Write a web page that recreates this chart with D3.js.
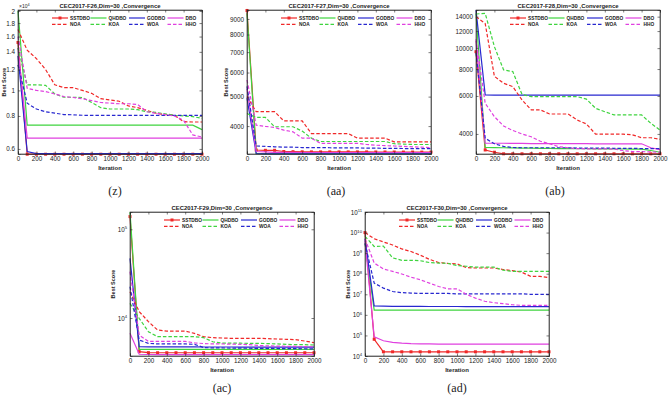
<!DOCTYPE html>
<html><head><meta charset="utf-8">
<script src="https://cdn.jsdelivr.net/npm/d3@7"></script>
<style>body{margin:0;background:#fff} svg{display:block}</style>
</head><body><svg id="c" width="669" height="399"></svg>
<script>
const iterations = d3.range(0, 2001, 100);
const seriesNames = ['SSTDBO','QHDBO','GODBO','DBO','NOA','KOA','WOA','HHO'];
const seriesColors = ['#f02828','#3fd43f','#2828d0','#e040e0','#f02828','#3fd43f','#2828d0','#e040e0'];
const seriesDashed = [false,false,false,false,true,true,true,true];

// F26 (values)
const F26_SSTDBO = [15200,5730,5730,5730,5730,5730,5730,5730,5730,5730,5730,5730,5730,5730,5730,5730,5730,5730,5730,5730,5730];
const F26_QHDBO  = [20000,7380,7380,7380,7380,7380,7380,7380,7380,7380,7380,7380,7380,7380,7380,7380,7380,7380,7380,7380,7100];
const F26_GODBO  = [13500,5860,5760,5760,5760,5760,5760,5760,5760,5760,5760,5760,5760,5760,5760,5760,5760,5760,5760,5760,5760];
const F26_DBO    = [14500,6590,6590,6590,6590,6590,6590,6590,6590,6590,6590,6590,6590,6590,6590,6590,6590,6590,6590,6590,6590];
const F26_NOA    = [17000,14200,13200,12000,10500,10240,10240,10000,9750,9300,9200,9100,8730,8600,8400,8200,8100,8050,7610,7590,7590];
const F26_KOA    = [14500,10490,10500,10450,9700,9420,9420,9400,9000,8600,8500,8500,8500,8450,8300,8250,8150,8050,8000,7950,7840];
const F26_WOA    = [12500,8940,8500,8300,8200,8100,8080,8050,8040,8040,8040,8040,8040,8040,8040,8040,8040,8040,8040,8040,8040];
const F26_HHO    = [16000,10190,10000,9900,9700,9470,9400,9300,9150,9000,8950,8900,8900,8850,8300,8200,8100,8000,7700,6780,6660];

// F27
const F27_SSTDBO = [9600,3337,3330,3330,3300,3295,3292,3290,3290,3290,3290,3290,3290,3290,3288,3288,3288,3286,3286,3285,3285];
const F27_QHDBO  = [9400,3245,3245,3245,3245,3245,3245,3245,3245,3245,3245,3245,3245,3245,3245,3245,3245,3245,3245,3245,3245];
const F27_GODBO  = [4940,3250,3242,3240,3240,3240,3240,3240,3240,3240,3240,3240,3240,3240,3240,3240,3240,3240,3240,3240,3240];
const F27_DBO    = [5300,3300,3290,3280,3278,3276,3275,3275,3275,3275,3275,3275,3275,3275,3275,3275,3275,3275,3275,3275,3275];
const F27_NOA    = [5000,4460,4460,4460,4160,4160,4160,3780,3780,3780,3780,3780,3650,3650,3650,3650,3550,3550,3550,3550,3550];
const F27_KOA    = [4400,4270,4270,3980,3980,3980,3850,3650,3560,3560,3560,3560,3560,3560,3560,3560,3500,3490,3480,3480,3480];
const F27_WOA    = [5400,3440,3430,3420,3410,3410,3400,3400,3400,3395,3390,3390,3390,3385,3385,3380,3380,3375,3375,3370,3370];
const F27_HHO    = [5670,4030,3990,3960,3880,3830,3650,3650,3510,3510,3510,3510,3510,3480,3460,3450,3440,3430,3420,3410,3400];

// F28
const F28_SSTDBO = [9630,3370,3290,3235,3235,3235,3235,3235,3235,3235,3235,3235,3235,3235,3235,3235,3235,3235,3235,3235,3235];
const F28_QHDBO  = [14500,3460,3455,3450,3445,3440,3435,3430,3425,3420,3420,3415,3415,3410,3410,3405,3405,3400,3400,3350,3290];
const F28_GODBO  = [15000,6070,6050,6050,6050,6050,6050,6050,6050,6050,6050,6050,6050,6050,6050,6050,6050,6050,6050,6050,6050];
const F28_DBO    = [10800,3620,3620,3620,3615,3615,3610,3610,3610,3605,3605,3605,3605,3600,3600,3600,3600,3600,3600,3450,3380];
const F28_NOA    = [14000,13000,7400,6870,6630,5750,5170,5170,4950,4950,4950,4640,4450,3990,3990,3990,3990,3960,3840,3840,3780];
const F28_KOA    = [14400,14500,10160,7930,7780,6100,5960,5960,5960,5960,5960,5960,5800,5260,5070,4900,4900,4900,4900,4480,4170];
const F28_WOA    = [9500,3820,3600,3500,3460,3450,3450,3450,3450,3450,3450,3440,3440,3440,3440,3430,3430,3430,3420,3420,3420];
const F28_HHO    = [11000,5550,4810,4350,4150,4000,3880,3700,3600,3490,3450,3420,3410,3410,3410,3400,3350,3310,3310,3300,3290];

// F29
const F29_SSTDBO = [139000,4170,4070,4060,4060,4060,4060,4060,4060,4060,4060,4060,4060,4060,4060,4060,4060,4060,4060,4060,4060];
const F29_QHDBO  = [156000,4440,4440,4440,4440,4440,4440,4440,4440,4440,4440,4440,4440,4440,4440,4440,4440,4440,4440,4440,4440];
const F29_GODBO  = [47000,4740,4730,4730,4720,4720,4720,4720,4710,4710,4710,4710,4700,4700,4700,4700,4700,4700,4700,4700,4700];
const F29_DBO    = [6720,3900,3880,3870,3870,3870,3870,3870,3870,3870,3870,3870,3870,3870,3870,3870,3870,3870,3870,3870,3870];
const F29_NOA    = [19800,11800,9100,7320,7130,7130,7130,6700,6160,6000,5950,5900,5900,5900,5900,5850,5800,5750,5700,5500,5270];
const F29_KOA    = [14600,9920,7010,6160,6160,6160,6160,6160,6000,5400,5200,5200,5200,5180,5180,5150,5100,5050,5000,5000,4960];
const F29_WOA    = [22500,5650,5180,5100,5100,5100,5100,5050,4650,4600,4600,4580,4570,4560,4550,4540,4530,4520,4510,4500,4480];
const F29_HHO    = [33300,6430,5440,5440,5440,5440,5440,5250,5150,5100,5100,5080,5050,5000,4900,4850,4820,4800,4780,4760,4740];

// F30
const F30_SSTDBO = [1e10,6.5e4,1.6e4,1.6e4,1.6e4,1.6e4,1.6e4,1.6e4,1.6e4,1.6e4,1.6e4,1.6e4,1.6e4,1.6e4,1.6e4,1.6e4,1.6e4,1.6e4,1.6e4,1.6e4,1.6e4];
const F30_QHDBO  = [3e9,1.7e6,1.7e6,1.7e6,1.7e6,1.7e6,1.7e6,1.7e6,1.7e6,1.7e6,1.7e6,1.7e6,1.7e6,1.7e6,1.7e6,1.7e6,1.7e6,1.7e6,1.7e6,1.7e6,1.7e6];
const F30_GODBO  = [5e9,2.7e6,2.65e6,2.6e6,2.6e6,2.6e6,2.6e6,2.55e6,2.55e6,2.55e6,2.55e6,2.5e6,2.5e6,2.5e6,2.5e6,2.5e6,2.5e6,2.5e6,2.5e6,2.5e6,2.5e6];
const F30_DBO    = [4e9,8.5e4,5.5e4,4.6e4,4.2e4,4e4,3.9e4,3.85e4,3.8e4,3.8e4,3.8e4,3.8e4,3.8e4,3.8e4,3.8e4,3.8e4,3.8e4,3.8e4,3.8e4,3.8e4,3.8e4];
const F30_NOA    = [1e10,5e9,3.5e9,2.5e9,1.6e9,1.2e9,8e8,5e8,3.5e8,3.2e8,3e8,2e8,1.9e8,1.9e8,1.9e8,1.6e8,1.4e8,1.2e8,7.5e7,7.5e7,6.5e7];
const F30_KOA    = [6.6e9,2.1e9,2.2e9,5.9e8,4.5e8,4.5e8,4.3e8,3.5e8,3.3e8,3.2e8,2.5e8,2.3e8,2.1e8,2.1e8,2.1e8,1.5e8,1.3e8,1.3e8,1.3e8,1.3e8,1.3e8];
const F30_WOA    = [3e9,3.5e7,2e7,1.37e7,1.2e7,1.15e7,1.1e7,1.1e7,1.1e7,1.1e7,1.05e7,1.05e7,1.05e7,1.05e7,1.05e7,1.05e7,1.05e7,1.05e7,1e7,1e7,1e7];
const F30_HHO    = [5e9,3.3e8,1.7e8,1.3e8,9.7e7,6.8e7,5.1e7,3.5e7,2.4e7,1.85e7,1.85e7,1e7,6.5e6,4.6e6,3.9e6,3.5e6,3.1e6,2.9e6,2.9e6,2.9e6,2.9e6];

const xTicks = d3.range(0, 2001, 200);
const yTicksF26 = [6000,8000,10000,12000,14000,16000,18000,20000];
const yTicksF27 = [4000,5000,6000,7000,8000,9000];
const yTicksF28 = [4000,6000,8000,10000,12000,14000];
const yTicksF29 = [1e4,1e5];
const yTicksF30 = [1e4,1e5,1e6,1e7,1e8,1e9,1e10,1e11];
const titles = ['CEC2017-F26,Dim=30 ,Convergence','CEC2017-F27,Dim=30 ,Convergence','CEC2017-F28,Dim=30 ,Convergence','CEC2017-F29,Dim=30 ,Convergence','CEC2017-F30,Dim=30 ,Convergence'];
const captions = ['(z)','(aa)','(ab)','(ac)','(ad)'];

const panels = [
  {series:[F26_SSTDBO,F26_QHDBO,F26_GODBO,F26_DBO,F26_NOA,F26_KOA,F26_WOA,F26_HHO], domain:[5740,20175], ticks:yTicksF26, fmt:'scaled', left:18, top:10, ylab:true, capX:115, capY:195},
  {series:[F27_SSTDBO,F27_QHDBO,F27_GODBO,F27_DBO,F27_NOA,F27_KOA,F27_WOA,F27_HHO], domain:[3238,9633], ticks:yTicksF27, fmt:'plain', left:247, top:10, ylab:true, capX:336, capY:195},
  {series:[F28_SSTDBO,F28_QHDBO,F28_GODBO,F28_DBO,F28_NOA,F28_KOA,F28_WOA,F28_HHO], domain:[3228,15030], ticks:yTicksF28, fmt:'plain', left:476, top:10, ylab:false, capX:555, capY:195},
  {series:[F29_SSTDBO,F29_QHDBO,F29_GODBO,F29_DBO,F29_NOA,F29_KOA,F29_WOA,F29_HHO], domain:[3730,156600], ticks:yTicksF29, fmt:'pow', left:130, top:212, ylab:true, capX:222, capY:392},
  {series:[F30_SSTDBO,F30_QHDBO,F30_GODBO,F30_DBO,F30_NOA,F30_KOA,F30_WOA,F30_HHO], domain:[1e4,1e11], ticks:yTicksF30, fmt:'pow', left:365, top:212, ylab:true, capX:457, capY:392}
];

const W = 184, H = 144;
const svg = d3.select('#c');
const FONT = 'Liberation Sans, Arial, sans-serif';

panels.forEach((p, pi) => {
  const g = svg.append('g').attr('transform', `translate(${p.left},${p.top})`);
  const x = d3.scaleLinear().domain([0, 2000]).range([0, W]);
  const y = d3.scaleLog().domain(p.domain).range([H, 0]);

  const line = d3.line().x((d, i) => x(iterations[i])).y(d => y(d));
  const clipId = 'clip' + pi;
  g.append('clipPath').attr('id', clipId).append('rect').attr('x', -2).attr('y', -2).attr('width', W + 4).attr('height', H + 4);
  const plot = g.append('g').attr('clip-path', `url(#${clipId})`);
  p.series.forEach((s, si) => {
    plot.append('path').datum(s)
      .attr('d', line)
      .attr('fill', 'none')
      .attr('stroke', seriesColors[si])
      .attr('stroke-width', 1.2)
      .attr('stroke-dasharray', seriesDashed[si] ? '3.5,2' : null);
    if (si === 0) {
      plot.selectAll('.mk').data(s).enter().append('path')
        .attr('transform', (d, i) => `translate(${x(iterations[i])},${y(d)})`)
        .attr('d', d3.symbol().type(d3.symbolSquare).size(9))
        .attr('fill', seriesColors[0]);
    }
  });

  const xAxis = g.append('g').attr('transform', `translate(0,${H})`)
    .call(d3.axisBottom(x).tickValues(xTicks).tickSize(-2.5).tickPadding(3).tickFormat(d3.format('d')));
  g.append('g').call(d3.axisTop(x).tickValues(xTicks).tickSize(-2.5).tickFormat(''));
  const yAxis = g.append('g')
    .call(d3.axisLeft(y).tickValues(p.ticks).tickSize(-2.5).tickPadding(3)
      .tickFormat(d => p.fmt === 'scaled' ? d3.format('~g')(d / 1e4) : (p.fmt === 'plain' ? d3.format('d')(d) : '')));
  g.append('g').attr('transform', `translate(${W},0)`)
    .call(d3.axisRight(y).tickValues(p.ticks).tickSize(-2.5).tickFormat(''));
  [xAxis, yAxis].forEach(a => a.selectAll('text').attr('font-family', FONT).attr('font-size', 6.3).attr('fill', '#1a1a1a'));
  g.selectAll('.domain').attr('stroke', '#262626').attr('stroke-width', 0.6);
  g.selectAll('.tick line').attr('stroke', '#262626').attr('stroke-width', 0.6);
  if (p.fmt === 'pow') {
    yAxis.selectAll('.tick text').each(function(d) {
      const t = d3.select(this);
      t.text('10');
      t.append('tspan').attr('dy', -2.5).attr('font-size', 4.2).text(Math.round(Math.log10(d)));
    });
  }
  if (p.fmt === 'scaled') {
    const ex = g.append('text').attr('x', 1).attr('y', -2).attr('font-family', FONT).attr('font-size', 5).attr('fill', '#262626').text('\u00d710');
    ex.append('tspan').attr('dy', -2).attr('font-size', 3.8).text('4');
  }
  g.append('rect').attr('width', W).attr('height', H).attr('fill', 'none').attr('stroke', '#262626').attr('stroke-width', 0.6);

  g.append('text').attr('x', W / 2).attr('y', -2.5).attr('text-anchor', 'middle')
    .attr('font-family', FONT).attr('font-size', 5.9).attr('font-weight', 'bold').attr('fill', '#1a1a1a').text(titles[pi]);
  g.append('text').attr('x', W / 2).attr('y', H + 15.5).attr('text-anchor', 'middle')
    .attr('font-family', FONT).attr('font-size', 6).attr('font-weight', 'bold').attr('fill', '#262626').text('Iteration');
  if (p.ylab) {
    const yl = p.fmt === 'plain' ? -19 : (p.fmt === 'pow' ? -15 : -12);
    g.append('text').attr('transform', `translate(${yl},${H / 2}) rotate(-90)`).attr('text-anchor', 'middle')
      .attr('font-family', FONT).attr('font-size', 5.5).attr('font-weight', 'bold').attr('fill', '#262626').text('Best Score');
  }

  const lg = g.append('g');
  seriesNames.forEach((n, si) => {
    const col = si % 4, row = Math.floor(si / 4);
    const lx = 34 + col * 38.5, ly = 8 + row * 6.3;
    lg.append('line').attr('x1', lx).attr('x2', lx + 16).attr('y1', ly).attr('y2', ly)
      .attr('stroke', seriesColors[si]).attr('stroke-width', 1.2)
      .attr('stroke-dasharray', seriesDashed[si] ? '3.5,2' : null);
    if (si === 0) {
      lg.append('path').attr('transform', `translate(${lx + 8},${ly})`)
        .attr('d', d3.symbol().type(d3.symbolSquare).size(9)).attr('fill', seriesColors[0]);
    }
    lg.append('text').attr('x', lx + 18).attr('y', ly + 1.7)
      .attr('font-family', FONT).attr('font-size', 4.8).attr('font-weight', 'bold').attr('fill', '#1a1a1a').text(n);
  });

  svg.append('text').attr('x', p.capX).attr('y', p.capY).attr('text-anchor', 'middle')
    .attr('font-family', 'Liberation Serif, Times New Roman, serif').attr('font-size', 12).attr('fill', '#222').text(captions[pi]);
});
</script></body></html>
